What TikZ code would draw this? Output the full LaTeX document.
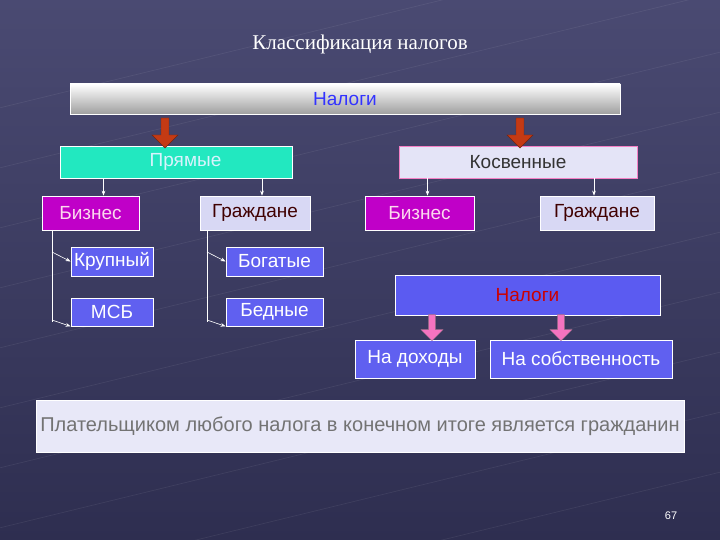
\documentclass[tikz,border=0pt]{standalone}
\usepackage{fontspec}
\setmainfont{Liberation Sans}
\newfontfamily\serifx{Liberation Serif}
\usetikzlibrary{arrows.meta,shapes.arrows}
\definecolor{bg1}{HTML}{4A4A72}
\definecolor{bg2}{HTML}{2E2E50}
\definecolor{tealx}{HTML}{22E8C0}
\definecolor{magx}{HTML}{C000C8}
\definecolor{lavx}{HTML}{D8D8F4}
\definecolor{blux}{HTML}{6060F0}
\definecolor{redx}{HTML}{C43A14}
\begin{document}
\begin{tikzpicture}[x=1pt,y=-1pt,
 bx/.style={draw=white,line width=0.8pt,minimum height=#1,inner sep=0pt,font=\fontsize{19}{21}\selectfont},
 bx/.default=30,
 conn/.style={white,line width=0.6pt,-{Stealth[length=5pt]}},
 blk/.style={single arrow,draw=#1!60!black,fill=#1,shape border rotate=270,minimum height=30pt,minimum width=26pt,single arrow head extend=5pt,inner sep=2pt}]
\useasboundingbox (0,0) rectangle (720,540);
\shade[top color=bg1,bottom color=bg2] (0,0) rectangle (720,540);
\foreach \i in {0,...,9}{\draw[white,opacity=0.08,line width=0.6pt] (-50,120+\i*60) -- (770,-80+\i*60);}
\node[white,font=\serifx\fontsize{21}{23}\selectfont] (t) at (360,44) {Классификация налогов};
\node[bx,minimum width=550,top color=white,bottom color=gray!75,draw=white,text=blue!80] (n) at (345,99) {Налоги};
\node[bx=32,minimum width=232,fill=tealx,text=white!85!cyan] (p) at (176,162) {\quad Прямые};
\node[bx=32,minimum width=238,fill=lavx!70!white,draw=magenta!50,text=black!80] (k) at (518,162) {Косвенные};
\node[blk=redx] (a1) at (165,131) {};
\node[blk=redx] (a2) at (520,131) {};
\node[bx=34,minimum width=97,fill=magx,text=white!85!magenta] (b1) at (90.5,213) {Бизнес};
\node[bx=34,minimum width=110,fill=lavx,text=black!75!red] (g1) at (255,213) {Граждане};
\node[bx=34,minimum width=109,fill=magx,text=white!85!magenta] (b2) at (419.5,213) {Бизнес};
\node[bx=34,minimum width=114,fill=lavx,text=black!75!red] (g2) at (597,213) {Граждане};
\draw[conn] (p.south-|b1.north) ++(13,0) coordinate(c1) -- (c1|-b1.north);
\draw[conn] (p.south-|g1.north) ++(7,0) coordinate(c2) -- (c2|-g1.north);
\draw[conn] (k.south-|b2.north) ++(8,0) coordinate(c3) -- (c3|-b2.north);
\draw[conn] (k.south-|g2.north) ++(-3,0) coordinate(c4) -- (c4|-g2.north);
\node[bx=29,minimum width=82,fill=blux,text=white] (kr) at (112,261.5) {Крупный};
\node[bx=28,minimum width=82,fill=blux,text=white] (ms) at (112,312) {МСБ};
\node[bx=29,minimum width=97,fill=blux,text=white] (bo) at (274.5,261.5) {Богатые};
\node[bx=28,minimum width=97,fill=blux,text=white] (be) at (274.5,312) {Бедные};
\coordinate (v1) at (52,230); \coordinate (v2) at (207,230);
\draw[white,line width=0.6pt] (v1) -- (52,322);
\draw[white,line width=0.6pt] (v2) -- (207,322);
\draw[conn] (52,252) -- (kr.west);
\draw[conn] (52,320) -- (ms.south west);
\draw[conn] (207,252) -- (bo.west);
\draw[conn] (207,320) -- (be.south west);
\node[bx=40,minimum width=265,fill=blux!95!blue,text=red!80!black] (n2) at (527.5,295) {Налоги};
\node[bx=38,minimum width=120,fill=blux,text=white] (d) at (415,359) {На доходы};
\node[bx=38,minimum width=182,fill=blux,text=white] (s) at (581,359) {На собственность};
\node[blk=magenta!55!white,minimum height=26pt,minimum width=22pt] (a3) at (432,326) {};
\node[blk=magenta!55!white,minimum height=26pt,minimum width=22pt] (a4) at (561,326) {};
\node[bx=52,minimum width=648,fill=lavx!60!white,draw=white,text=black!55,font=\fontsize{20}{22}\selectfont] (f) at (360,426) {Плательщиком любого налога в конечном итоге является гражданин};
\node[white,font=\fontsize{11}{12}\selectfont] (pg) at (671,516) {67};
\end{tikzpicture}
\end{document}
